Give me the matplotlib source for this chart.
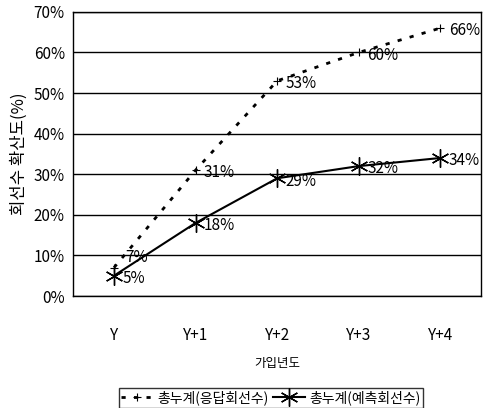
import matplotlib
matplotlib.use("Agg")
import matplotlib.pyplot as plt

plt.rcParams["font.family"] = ["Noto Sans CJK KR", "DejaVu Sans"]

years = ["Y", "Y+1", "Y+2", "Y+3", "Y+4"]
response_pct = [7, 31, 53, 60, 66]   # 총누계(응답회선수)
forecast_pct = [5, 18, 29, 32, 34]   # 총누계(예측회선수)
y_ticks = [0, 10, 20, 30, 40, 50, 60, 70]

fig = plt.figure(figsize=(4.88, 4.08), dpi=100)
ax = fig.add_axes([0.150, 0.2745, 0.836, 0.6965])

x = list(range(len(years)))
ax.plot(x, response_pct, linestyle=(0, (1.5, 3)), color="black", linewidth=2,
        marker="+", markersize=6, markeredgewidth=0.8, label="총누계(응답회선수)")
ax.plot(x, forecast_pct, linestyle="-", color="black", linewidth=1.5,
        marker=(6, 2, 0), markersize=13, markeredgewidth=1.0, label="총누계(예측회선수)")

# first point: labels would sit on top of each other, nudge the upper one
resp_offsets = [(8, 7), (6, -2), (6, -2), (6, -2), (6, -2)]
for xi, v, off in zip(x, response_pct, resp_offsets):
    ax.annotate(f"{v}%", (xi, v), xytext=off, textcoords="offset points",
                fontsize=11, va="center", ha="left")
for xi, v in zip(x, forecast_pct):
    ax.annotate(f"{v}%", (xi, v), xytext=(6, -2), textcoords="offset points",
                fontsize=11, va="center", ha="left")

ax.set_xlim(-0.5, len(years) - 0.5)
ax.set_ylim(0, 70)
ax.set_yticks(y_ticks)
ax.set_yticklabels([f"{t}%" for t in y_ticks], fontsize=11)
ax.set_xticks(x)
ax.set_xticklabels(years, fontsize=11)
ax.tick_params(axis="y", length=0, pad=6)
ax.tick_params(axis="x", length=0, pad=22)
ax.grid(axis="y", color="black", linewidth=1)
ax.set_axisbelow(True)
for s in ax.spines.values():
    s.set_color("black")
    s.set_linewidth(1)

ax.set_ylabel("회선수 확산도(%)", fontsize=12, labelpad=4)
ax.set_xlabel("가입년도", fontsize=9, labelpad=10)

fig.legend(loc="center", bbox_to_anchor=(0.555, 0.025), ncol=2, fontsize=10,
           frameon=True, fancybox=False, edgecolor="black", handlelength=2.3,
           columnspacing=0.3, handletextpad=0.3, borderpad=0.2)

fig.savefig("out.png", dpi=100)
